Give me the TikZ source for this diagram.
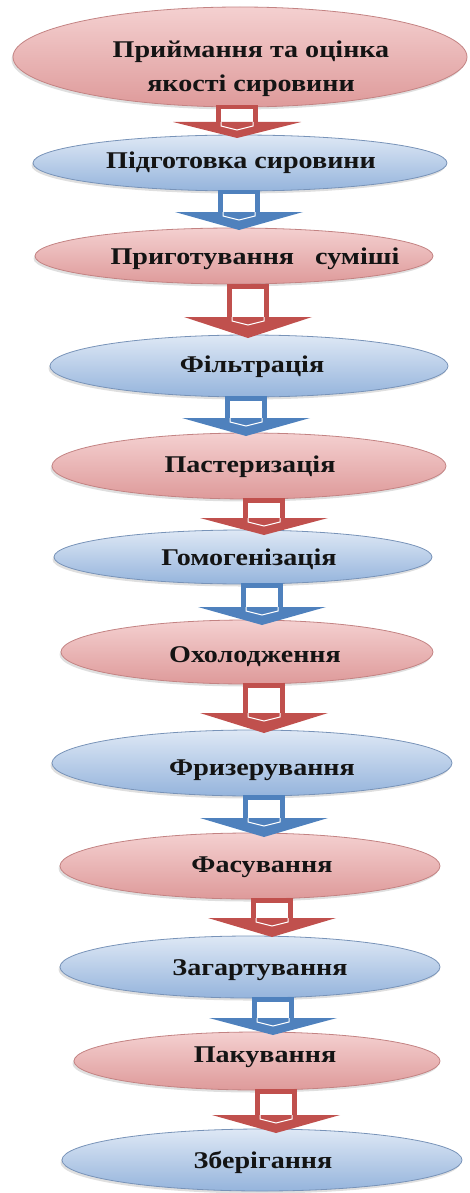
\documentclass[tikz,border=0pt]{standalone}
\usepackage{fontspec}
\setmainfont{Liberation Serif}[FakeStretch=1.17]
\usetikzlibrary{shapes.geometric,shadows}
\definecolor{arrred}{HTML}{C0504D}
\definecolor{arrblue}{HTML}{4F81BD}
\definecolor{pinktop}{HTML}{F4D0D0}
\definecolor{pinkmid}{HTML}{F1C2C2}
\definecolor{pinkbot}{HTML}{DE9A9A}
\definecolor{pinkrim}{HTML}{C38383}
\definecolor{bluetop}{HTML}{DEE8F5}
\definecolor{bluemid}{HTML}{C6D8EE}
\definecolor{bluebot}{HTML}{95B4DC}
\definecolor{bluerim}{HTML}{7893B8}
\tikzset{
  stage/.style={ellipse, inner sep=0pt, line width=0.8pt,
    drop shadow={opacity=0.25, shadow xshift=-1.5pt, shadow yshift=-2.5pt}},
  pinkstage/.style={stage, draw=pinkrim, top color=pinktop, middle color=pinkmid, bottom color=pinkbot},
  bluestage/.style={stage, draw=bluerim, top color=bluetop, middle color=bluemid, bottom color=bluebot},
  lbl/.style={anchor=base, inner sep=0pt, font=\fontsize{24}{28}\selectfont\bfseries, text=black!92}
}
% block arrow: colour, centre x, shaft top, head top, tip y
\newcommand\flowarrow[5]{%
  \fill[#1] (#2-21,#3) rectangle (#2+21,#4+1);
  \fill[white] (#2-16,#3+4.5) rectangle (#2+16,#4+1);
  \fill[#1] (#2-64,#4) -- (#2+64,#4) -- (#2,#5) -- cycle;
  \draw[white, line width=1pt] (#2-16,#4) -- (#2-16,#4+4) -- (#2,#4+8) -- (#2+16,#4+4) -- (#2+16,#4);
}
\begin{document}
\begin{tikzpicture}[x=1pt,y=-1pt]
\useasboundingbox (0,0) rectangle (469,1193);
% stages
\node[pinkstage, minimum width=454, minimum height=100] (e1) at (240,57) {};
\node[bluestage, minimum width=414, minimum height=56] (e2) at (240,163) {};
\node[pinkstage, minimum width=398, minimum height=56] (e3) at (234,256) {};
\node[bluestage, minimum width=398, minimum height=62] (e4) at (249,366) {};
\node[pinkstage, minimum width=394, minimum height=66] (e5) at (249,466) {};
\node[bluestage, minimum width=378, minimum height=54] (e6) at (243,557) {};
\node[pinkstage, minimum width=372, minimum height=64] (e7) at (247,652) {};
\node[bluestage, minimum width=400, minimum height=66] (e8) at (252,763) {};
\node[pinkstage, minimum width=380, minimum height=66] (e9) at (250,866) {};
\node[bluestage, minimum width=380, minimum height=62] (e10) at (250,967) {};
\node[pinkstage, minimum width=366, minimum height=58] (e11) at (257,1061) {};
\node[bluestage, minimum width=400, minimum height=62] (e12) at (262,1160) {};
% labels
\node[lbl] (l1a) at (251,58) {Приймання та оцінка};
\node[lbl] (l1b) at (251,92) {якості сировини};
\node[lbl] (l2) at (241,169) {Підготовка сировини};
\node[lbl] (l3) at (255,264) {Приготування\ \ \ суміші};
\node[lbl] (l4) at (252,372) {Фільтрація};
\node[lbl] (l5) at (250,472) {Пастеризація};
\node[lbl] (l6) at (249,565) {Гомогенізація};
\node[lbl] (l7) at (255,662) {Охолодження};
\node[lbl] (l8) at (262,775) {Фризерування};
\node[lbl] (l9) at (262,872) {Фасування};
\node[lbl] (l10) at (260,975) {Загартування};
\node[lbl] (l11) at (265,1062) {Пакування};
\node[lbl] (l12) at (263,1168) {Зберігання};
% arrows between stages
\flowarrow{arrred}{237}{105}{122}{138}
\flowarrow{arrblue}{239}{190}{212}{230}
\flowarrow{arrred}{248}{284}{317}{338}
\flowarrow{arrblue}{246}{396}{418}{436}
\flowarrow{arrred}{264}{498}{518}{535}
\flowarrow{arrblue}{262}{583}{607}{625}
\flowarrow{arrred}{264}{683}{713}{733}
\flowarrow{arrblue}{264}{795}{818}{837}
\flowarrow{arrred}{272}{898}{918}{937}
\flowarrow{arrblue}{273}{997}{1018}{1035}
\flowarrow{arrred}{276}{1089}{1115}{1133}
\end{tikzpicture}
\end{document}
